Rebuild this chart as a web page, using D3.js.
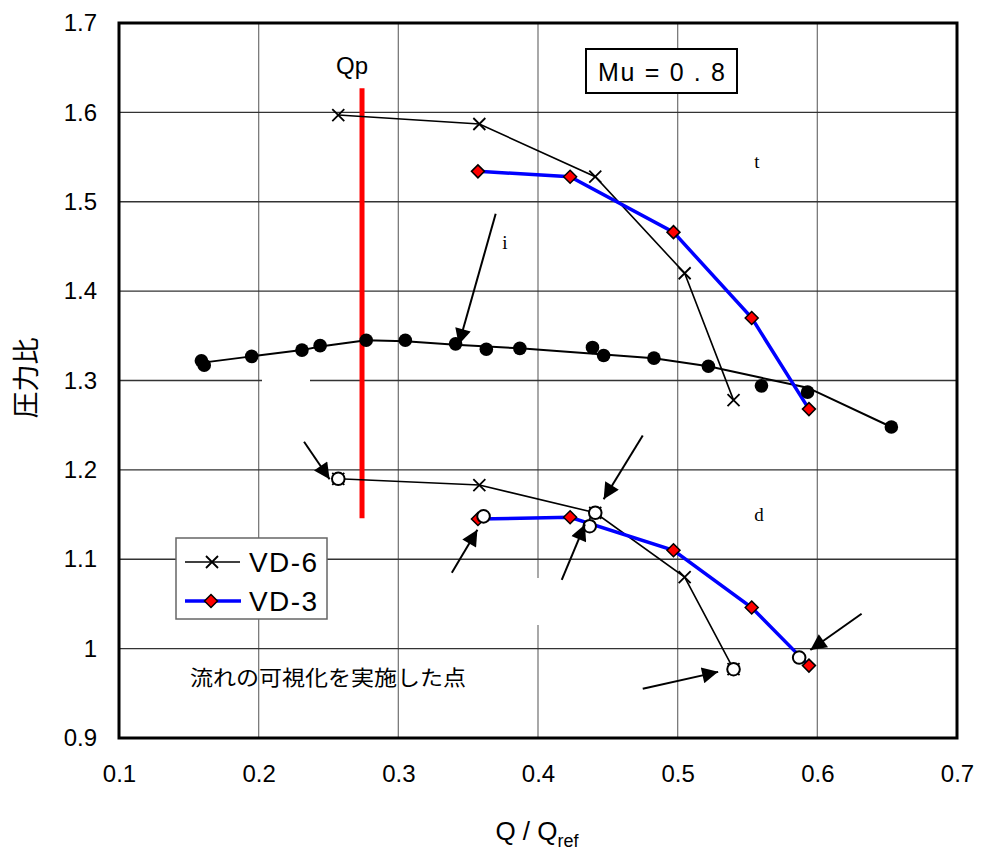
<!DOCTYPE html>
<html><head><meta charset="utf-8">
<script src="https://cdn.jsdelivr.net/npm/d3@7"></script>
<style>body{margin:0;background:#fff;} svg{display:block;font-family:Arial, "Liberation Sans", sans-serif;}</style>
</head><body>
<svg id="c" width="981" height="858"></svg>
<script>
// ---- data ----
const xTicks = [0.1,0.2,0.3,0.4,0.5,0.6,0.7];
const yTicks = [0.9,1.0,1.1,1.2,1.3,1.4,1.5,1.6,1.7];
const yTickLabels = ["0.9","1","1.1","1.2","1.3","1.4","1.5","1.6","1.7"];
const xTickLabels = ["0.1","0.2","0.3","0.4","0.5","0.6","0.7"];

const vd6Q = [0.257,0.358,0.441,0.505,0.540];
const vd6Total = [1.597,1.587,1.528,1.420,1.278];
const vd6Diff = [1.190,1.183,1.152,1.080,0.977];

const vd3Q = [0.357,0.423,0.497,0.553,0.594];
const vd3Total = [1.534,1.528,1.466,1.370,1.268];
const vd3Diff = [1.145,1.147,1.110,1.046,0.981];

const impQ = [0.159,0.161,0.195,0.231,0.244,0.277,0.305,0.341,0.363,0.387,0.439,0.447,0.483,0.522,0.560,0.593,0.653];
const impPR = [1.322,1.317,1.327,1.334,1.339,1.345,1.345,1.341,1.335,1.336,1.337,1.328,1.325,1.316,1.294,1.287,1.248];
const impFitQ = [0.160,0.195,0.231,0.244,0.277,0.305,0.341,0.387,0.440,0.483,0.522,0.560,0.593,0.653];
const impFitPR = [1.320,1.327,1.334,1.338,1.345,1.344,1.340,1.336,1.330,1.325,1.316,1.303,1.292,1.248];

const visQ = [0.257,0.441,0.540,0.361,0.437,0.587];
const visPR = [1.190,1.152,0.977,1.148,1.137,0.990];

const qp = 0.274;
const qpRange = [1.146,1.627];

// arrows: [fromQ, fromPR, toQ, toPR]
const arrows = [
  [0.3697,1.4865,0.3432,1.3400],
  [0.2325,1.2315,0.2508,1.1895],
  [0.4750,1.2385,0.4470,1.1672],
  [0.3383,1.0850,0.3566,1.1330],
  [0.4170,1.0770,0.4336,1.1390],
  [0.4750,0.9550,0.5290,0.9740],
  [0.6317,1.0390,0.5950,0.9985]
];

// ---- layout ----
const svg = d3.select("#c");
const x = d3.scaleLinear().domain([0.1,0.7]).range([119,957]);
const y = d3.scaleLinear().domain([0.9,1.7]).range([738,23]);

// grid
const g = svg.append("g");
g.selectAll(".vg").data(xTicks.slice(1,-1)).join("line")
  .attr("x1",d=>x(d)).attr("x2",d=>x(d)).attr("y1",y(1.7)).attr("y2",y(0.9))
  .attr("stroke","#7a7a7a").attr("stroke-width",1.3);
g.selectAll(".hg").data(yTicks.slice(1,-1)).join("line")
  .attr("x1",x(0.1)).attr("x2",x(0.7)).attr("y1",d=>y(d)).attr("y2",d=>y(d))
  .attr("stroke","#333").attr("stroke-width",1.3);

// white masks over gridlines (empty label boxes)
g.append("rect").attr("x",262).attr("y",370).attr("width",48).attr("height",14).attr("fill","#fff");
g.append("rect").attr("x",532).attr("y",578).attr("width",14).attr("height",47).attr("fill","#fff");

// axes labels via d3 axes (no domain/ticks lines)
const xAxis = d3.axisBottom(x).tickValues(xTicks).tickFormat((d,i)=>xTickLabels[i]).tickSize(0).tickPadding(27);
const ax = svg.append("g").attr("transform",`translate(0,${y(0.9)})`).call(xAxis);
ax.select(".domain").remove();
ax.selectAll("text").attr("font-size",24).attr("fill","#000").attr("font-family","Arial, 'Liberation Sans', sans-serif");
const yAxis = d3.axisLeft(y).tickValues(yTicks).tickFormat((d,i)=>yTickLabels[i]).tickSize(0).tickPadding(22);
const ay = svg.append("g").attr("transform",`translate(${x(0.1)},0)`).call(yAxis);
ay.select(".domain").remove();
ay.selectAll("text").attr("font-size",24).attr("fill","#000").attr("font-family","Arial, 'Liberation Sans', sans-serif");

// frame
svg.append("rect").attr("x",x(0.1)).attr("y",y(1.7)).attr("width",x(0.7)-x(0.1)).attr("height",y(0.9)-y(1.7))
  .attr("fill","none").attr("stroke","#000").attr("stroke-width",3);

// axis titles
const xt = svg.append("text").attr("x",537).attr("y",840).attr("text-anchor","middle").attr("font-size",26);
xt.append("tspan").text("Q / Q");
xt.append("tspan").attr("font-size",18).attr("dy",7).text("ref");
svg.append("text").attr("transform","translate(36,378) rotate(-90)").attr("text-anchor","middle")
  .attr("font-size",27).attr("font-family","'Noto Sans CJK JP', sans-serif").text("圧力比");

// Qp line
svg.append("line").attr("x1",x(qp)).attr("x2",x(qp)).attr("y1",y(qpRange[1])).attr("y2",y(qpRange[0]))
  .attr("stroke","#ff0000").attr("stroke-width",5);
svg.append("text").attr("x",x(qp)-10).attr("y",74).attr("text-anchor","middle").attr("font-size",24).text("Qp");

// Mu box
svg.append("rect").attr("x",586).attr("y",49).attr("width",151).attr("height",44).attr("fill","#fff").attr("stroke","#000").attr("stroke-width",2);
svg.append("text").attr("x",598).attr("y",81).attr("font-size",25).attr("textLength",127).attr("lengthAdjust","spacing").text("Mu = 0 . 8");

// lines
const line = d3.line().x(d=>x(d[0])).y(d=>y(d[1]));
const zip = (a,b)=>a.map((v,i)=>[v,b[i]]);

svg.append("path").datum(zip(impFitQ,impFitPR)).attr("d",line).attr("fill","none").attr("stroke","#000").attr("stroke-width",2);
[vd6Total,vd6Diff].forEach(s=>{
  svg.append("path").datum(zip(vd6Q,s)).attr("d",line).attr("fill","none").attr("stroke","#000").attr("stroke-width",1.6);
});
[vd3Total,vd3Diff].forEach(s=>{
  svg.append("path").datum(zip(vd3Q,s)).attr("d",line).attr("fill","none").attr("stroke","#0000ff").attr("stroke-width",3.5);
});

// markers
function xMark(sel,cx,cy,s){
  sel.append("path").attr("d",`M${cx-s},${cy-s}L${cx+s},${cy+s}M${cx-s},${cy+s}L${cx+s},${cy-s}`)
    .attr("stroke","#000").attr("stroke-width",1.8).attr("fill","none");
}
function diamond(sel,cx,cy,s){
  sel.append("path").attr("d",`M${cx},${cy-s}L${cx+s},${cy}L${cx},${cy+s}L${cx-s},${cy}Z`)
    .attr("fill","#ff0000").attr("stroke","#000").attr("stroke-width",1.5);
}
const mk = svg.append("g");
zip(vd6Q,vd6Total).concat(zip(vd6Q,vd6Diff)).forEach(d=>xMark(mk,x(d[0]),y(d[1]),6));
zip(vd3Q,vd3Total).concat(zip(vd3Q,vd3Diff)).forEach(d=>diamond(mk,x(d[0]),y(d[1]),6.5));
zip(impQ,impPR).forEach(d=>mk.append("circle").attr("cx",x(d[0])).attr("cy",y(d[1])).attr("r",6.8).attr("fill","#000"));
zip(visQ,visPR).forEach(d=>mk.append("circle").attr("cx",x(d[0])).attr("cy",y(d[1])).attr("r",6.3).attr("fill","#fff").attr("stroke","#000").attr("stroke-width",2));

// arrows
svg.append("defs").append("marker").attr("id","ah").attr("viewBox","0 0 10 10").attr("refX",10).attr("refY",5)
  .attr("markerWidth",24).attr("markerHeight",16).attr("markerUnits","userSpaceOnUse").attr("orient","auto")
  .append("path").attr("d","M0,0L10,5L0,10Z").attr("fill","#000");
arrows.forEach(a=>{
  svg.append("line").attr("x1",x(a[0])).attr("y1",y(a[1])).attr("x2",x(a[2])).attr("y2",y(a[3]))
    .attr("stroke","#000").attr("stroke-width",2).attr("marker-end","url(#ah)");
});

// small labels
const lbl = "'Liberation Serif','DejaVu Serif',serif";
[["t",757,168],["i",505,249],["d",759,521]].forEach(l=>{
  svg.append("text").attr("x",l[1]).attr("y",l[2]).attr("text-anchor","middle").attr("font-size",19)
    .attr("font-family",lbl).attr("fill","#000").text(l[0]);
});

svg.append("text").attr("x",190).attr("y",685).attr("font-size",21).attr("font-family","'Noto Sans CJK JP', sans-serif")
  .attr("textLength",276).attr("lengthAdjust","spacingAndGlyphs").text("流れの可視化を実施した点");

// legend
const lg = svg.append("g");
lg.append("rect").attr("x",176).attr("y",538).attr("width",151).attr("height",81).attr("fill","#fff").attr("stroke","#666").attr("stroke-width",1.5);
lg.append("line").attr("x1",185).attr("x2",240).attr("y1",562).attr("y2",562).attr("stroke","#000").attr("stroke-width",1.6);
xMark(lg,212,562,6);
lg.append("line").attr("x1",185).attr("x2",241).attr("y1",601).attr("y2",601).attr("stroke","#0000ff").attr("stroke-width",3.5);
diamond(lg,211,601,6.5);
lg.append("text").attr("x",249).attr("y",572).attr("font-size",28).attr("textLength",68).attr("lengthAdjust","spacing").text("VD-6");
lg.append("text").attr("x",249).attr("y",611).attr("font-size",28).attr("textLength",68).attr("lengthAdjust","spacing").text("VD-3");
</script>
</body></html>
